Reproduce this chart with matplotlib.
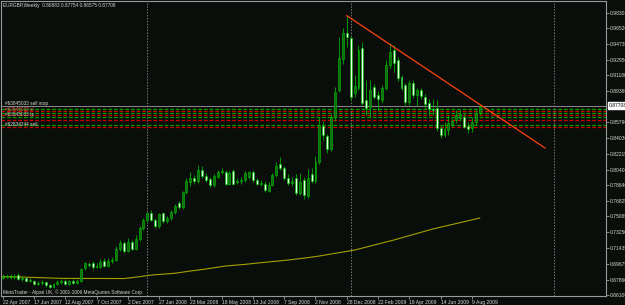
import matplotlib
matplotlib.use("Agg")
import matplotlib.pyplot as plt
import matplotlib.transforms as mtransforms
import numpy as np

# weekly EURGBP bars, 22 Apr 2007 .. 23 Aug 2009
opens = [0.6805, 0.6820, 0.6830, 0.6815, 0.6840, 0.6790, 0.6800, 0.6775, 0.6770, 0.6735,
         0.6745, 0.6760, 0.6720, 0.6700, 0.6740, 0.6755, 0.6765, 0.6740, 0.6770, 0.6750,
         0.6775, 0.6920, 0.6965, 0.6980, 0.6930, 0.6930, 0.6995, 0.6945, 0.7000, 0.7010,
         0.7140, 0.7200, 0.7110, 0.7220, 0.7140, 0.7250, 0.7370, 0.7460, 0.7540, 0.7470,
         0.7400, 0.7540, 0.7450, 0.7490, 0.7555, 0.7660, 0.7610, 0.7780, 0.7900, 0.7950,
         0.7910, 0.8040, 0.7970, 0.7930, 0.7860, 0.7960, 0.8010, 0.8010, 0.7880, 0.8020,
         0.7900, 0.7905, 0.7920, 0.7960, 0.8010, 0.7920, 0.7880, 0.7880, 0.7795, 0.7865,
         0.7980, 0.8100, 0.8060, 0.7940, 0.7890, 0.7940, 0.7770, 0.7920, 0.7740, 0.7995,
         0.7915, 0.8125, 0.8540, 0.8420, 0.8280, 0.8640, 0.8950, 0.9300, 0.9600, 0.9540,
         0.8910, 0.8970, 0.9430, 0.8830, 0.8750, 0.8980, 0.8890, 0.8830, 0.8970, 0.9230,
         0.9400, 0.9290, 0.9100, 0.9010, 0.8810, 0.9030, 0.8890, 0.8950, 0.8870, 0.8800,
         0.8730, 0.8740, 0.8510, 0.8440, 0.8490, 0.8550, 0.8610, 0.8630, 0.8640, 0.8540,
         0.8520, 0.8580, 0.86883]
closes = [0.6820, 0.6830, 0.6815, 0.6825, 0.6790, 0.6800, 0.6775, 0.6780, 0.6735, 0.6745,
          0.6760, 0.6720, 0.6700, 0.6740, 0.6755, 0.6765, 0.6740, 0.6770, 0.6750, 0.6775,
          0.6905, 0.6975, 0.6950, 0.6925, 0.6945, 0.6990, 0.6945, 0.7000, 0.7010, 0.7140,
          0.7200, 0.7110, 0.7220, 0.7140, 0.7250, 0.7370, 0.7460, 0.7540, 0.7460, 0.7400,
          0.7530, 0.7450, 0.7490, 0.7555, 0.7620, 0.7610, 0.7780, 0.7910, 0.7950, 0.7910,
          0.8040, 0.7970, 0.7920, 0.7860, 0.7970, 0.8010, 0.8020, 0.7880, 0.8000, 0.7880,
          0.7905, 0.7920, 0.8000, 0.8010, 0.7920, 0.7880, 0.7885, 0.7810, 0.7865, 0.7980,
          0.8080, 0.8060, 0.7940, 0.7890, 0.7910, 0.7770, 0.7900, 0.7750, 0.7940, 0.7915,
          0.8125, 0.8550, 0.8430, 0.8280, 0.8640, 0.8920, 0.9310, 0.9600, 0.9550, 0.8870,
          0.8990, 0.9400, 0.8800, 0.8740, 0.8950, 0.8870, 0.8850, 0.8970, 0.9230, 0.9380,
          0.9260, 0.9080, 0.8970, 0.8810, 0.9030, 0.8890, 0.8950, 0.8880, 0.8790, 0.8730,
          0.8720, 0.8510, 0.8440, 0.8500, 0.8570, 0.8600, 0.8660, 0.8670, 0.8530, 0.8500,
          0.8580, 0.8690, 0.87708]
highs = [0.6850, 0.6855, 0.6850, 0.6845, 0.6860, 0.6830, 0.6815, 0.6800, 0.6785, 0.6770,
         0.6780, 0.6770, 0.6735, 0.6750, 0.6780, 0.6790, 0.6790, 0.6785, 0.6790, 0.6795,
         0.6915, 0.6990, 0.6990, 0.7000, 0.6970, 0.7020, 0.7030, 0.7030, 0.7040, 0.7170,
         0.7240, 0.7230, 0.7260, 0.7240, 0.7290, 0.7400, 0.7490, 0.7560, 0.7580, 0.7490,
         0.7550, 0.7560, 0.7510, 0.7580, 0.7650, 0.7680, 0.7800, 0.7950, 0.8010, 0.7980,
         0.8090, 0.8080, 0.8000, 0.7960, 0.7990, 0.8040, 0.8060, 0.8040, 0.8030, 0.8050,
         0.7940, 0.7960, 0.8020, 0.8030, 0.8040, 0.7950, 0.7920, 0.7910, 0.7900, 0.8000,
         0.8130, 0.8185, 0.8080, 0.7990, 0.7960, 0.7990, 0.8000, 0.7960, 0.8050, 0.8060,
         0.8200, 0.8640, 0.8600, 0.8450, 0.8680, 0.8980, 0.9550, 0.9650, 0.9796, 0.9560,
         0.9120, 0.9460, 0.9500, 0.9060, 0.9060, 0.9020, 0.8940, 0.9010, 0.9290, 0.9480,
         0.9460, 0.9330, 0.9120, 0.9030, 0.9060, 0.9060, 0.8970, 0.8970, 0.8900, 0.8850,
         0.8850, 0.8830, 0.8540, 0.8580, 0.8660, 0.8630, 0.8720, 0.8720, 0.8680, 0.8580,
         0.8640, 0.8720, 0.87754]
lows = [0.6790, 0.6800, 0.6795, 0.6790, 0.6780, 0.6770, 0.6760, 0.6755, 0.6725, 0.6720,
        0.6730, 0.6705, 0.6690, 0.6685, 0.6725, 0.6740, 0.6730, 0.6730, 0.6735, 0.6740,
        0.6760, 0.6900, 0.6935, 0.6910, 0.6915, 0.6920, 0.6935, 0.6930, 0.6980, 0.6995,
        0.7110, 0.7090, 0.7100, 0.7120, 0.7120, 0.7230, 0.7350, 0.7440, 0.7450, 0.7370,
        0.7380, 0.7430, 0.7430, 0.7470, 0.7530, 0.7590, 0.7590, 0.7760, 0.7850, 0.7880,
        0.7890, 0.7950, 0.7900, 0.7840, 0.7840, 0.7940, 0.7990, 0.7860, 0.7860, 0.7860,
        0.7880, 0.7880, 0.7900, 0.7930, 0.7900, 0.7860, 0.7850, 0.7790, 0.7780, 0.7850,
        0.7960, 0.8040, 0.7920, 0.7870, 0.7850, 0.7750, 0.7750, 0.7710, 0.7720, 0.7890,
        0.7890, 0.8100, 0.8380, 0.8230, 0.8250, 0.8600, 0.8930, 0.9250, 0.9440, 0.8830,
        0.8870, 0.8950, 0.8780, 0.8660, 0.8640, 0.8840, 0.8720, 0.8800, 0.8950, 0.9200,
        0.9150, 0.9050, 0.8950, 0.8780, 0.8780, 0.8860, 0.8760, 0.8840, 0.8740, 0.8660,
        0.8660, 0.8480, 0.8400, 0.8410, 0.8430, 0.8530, 0.8570, 0.8600, 0.8510, 0.8460,
        0.8470, 0.8550, 0.86575]

# slow moving average (yellow line), read at a few bars
ma_bar = [0, 5, 15, 31, 35, 38, 44, 48, 52, 57, 62, 67, 73, 78, 81, 90, 100, 110, 122]
ma_val = [0.6820, 0.6815, 0.6800, 0.6798, 0.6819, 0.6838, 0.6858, 0.6884, 0.6907, 0.6941,
          0.6960, 0.6983, 0.7009, 0.7036, 0.7055, 0.7123, 0.7237, 0.7363, 0.7488]

# order levels: green = entry/tp, red = sl
green_levels = [0.8737, 0.8686, 0.8637, 0.8546]
red_levels = [0.8712, 0.8660, 0.8606, 0.8523]
bid = 0.87708

trend_bars = [88, 138.7]
trend_vals = [0.9796, 0.8287]

separators = [37, 89, 141]

date_labels = ["22 Apr 2007", "17 Jun 2007", "12 Aug 2007", "7 Oct 2007", "2 Dec 2007",
               "27 Jan 2008", "23 Mar 2008", "18 May 2008", "13 Jul 2008", "7 Sep 2008",
               "2 Nov 2008", "28 Dec 2008", "22 Feb 2009", "19 Apr 2009", "14 Jun 2009",
               "9 Aug 2009"]
price_ticks = [0.98300, 0.96520, 0.94735, 0.92950, 0.91180, 0.89365, 0.85790, 0.84030,
               0.82215, 0.80400, 0.78640, 0.76825, 0.75065, 0.73250, 0.71435, 0.69675,
               0.67860, 0.66100]

BG = "#0a0e0a"
GRID = "#9a9a9a"
TXT = "#d8d8d8"
FONT = "Liberation Sans"

fig = plt.figure(figsize=(6.25, 3.05), dpi=100, facecolor=BG)
ax = fig.add_axes([1 / 625, 9 / 305, 605 / 625, 295 / 305], facecolor=BG)

o = np.array(opens); c = np.array(closes); h = np.array(highs); l = np.array(lows)
x = np.arange(len(o))
up = c >= o

# order lines and bid line
for lv in green_levels:
    ax.axhline(lv, color="#00a000", lw=0.9, ls=(0, (3, 1.5)), zorder=1)
for lv in red_levels:
    ax.axhline(lv, color="#c80000", lw=0.9, ls=(0, (3, 1.5)), zorder=1)
ax.axhline(bid, color="#8a8a8a", lw=0.7, zorder=1)

for s in separators:
    ax.axvline(s, color="#777777", lw=0.7, ls=(0, (1.5, 1.5)), zorder=1)

# moving average
ax.plot(ma_bar, ma_val, color="#a8a000", lw=0.8, zorder=2)

# candles
ax.vlines(x, l, h, color="#00b000", lw=0.6, zorder=3)
body_lo = np.minimum(o, c)
body_h = np.maximum(np.abs(c - o), 0.0004)
ax.bar(x[up], body_h[up], bottom=body_lo[up], width=0.5, color="#126a12",
       edgecolor="#00b800", linewidth=0.45, zorder=4)
ax.bar(x[~up], body_h[~up], bottom=body_lo[~up], width=0.5, color="#e4ffe4",
       edgecolor="#00b800", linewidth=0.45, zorder=4)

# trend line
ax.plot(trend_bars, trend_vals, color="#ff4010", lw=0.9, zorder=5)

ax.set_xlim(-0.43, 154.3)
ax.set_ylim(0.6599, 0.9963)

for sp in ax.spines.values():
    sp.set_color(GRID)
    sp.set_linewidth(0.8)

ax.yaxis.tick_right()
ax.set_yticks(price_ticks)
ax.set_yticklabels(["%.5f" % v for v in price_ticks])
ax.set_xticks(np.arange(0, 8 * len(date_labels), 8))
ax.set_xticklabels(date_labels)
ax.tick_params(axis="both", colors=GRID, length=2, width=0.6, labelsize=3.6,
               labelcolor=TXT, pad=1)
for t in ax.get_xticklabels():
    t.set_horizontalalignment("left")
    t.set_fontfamily(FONT)
for t in ax.get_yticklabels():
    t.set_fontfamily(FONT)

# current price box
tr = mtransforms.blended_transform_factory(ax.transAxes, ax.transData)
ax.text(1.004, bid, "%.5f" % bid, transform=tr, fontsize=3.6, family=FONT,
        color="black", va="center", ha="left",
        bbox=dict(facecolor="white", edgecolor="white", pad=0.6))

# order labels
ax.text(0.6, 0.8790, "#63845033 sell stop", fontsize=3.4, family=FONT, color=TXT, va="center", zorder=6)
ax.text(0.6, 0.8722, "#63845033 sl", fontsize=3.4, family=FONT, color="#ff6060", va="center", zorder=6)
ax.text(0.6, 0.8672, "#63845033 tp", fontsize=3.4, family=FONT, color="#c0c0c0", va="center", zorder=6)
ax.text(0.6, 0.8560, "#62834344 sell", fontsize=3.4, family=FONT, color=TXT, va="center", zorder=6)

fig.text(3 / 625, 1 - 5 / 305, "EURGBP,Weekly  0.86883 0.87754 0.86575 0.87708",
         fontsize=3.4, family=FONT, color=TXT, va="center", ha="left")
fig.text(3 / 625, 1 - 292 / 305, "MetaTrader - Alpari UK, \u00a9 2001-2009 MetaQuotes Software Corp.",
         fontsize=3.4, family=FONT, color=TXT, va="center", ha="left")

fig.savefig("out.png", dpi=100, facecolor=BG)
